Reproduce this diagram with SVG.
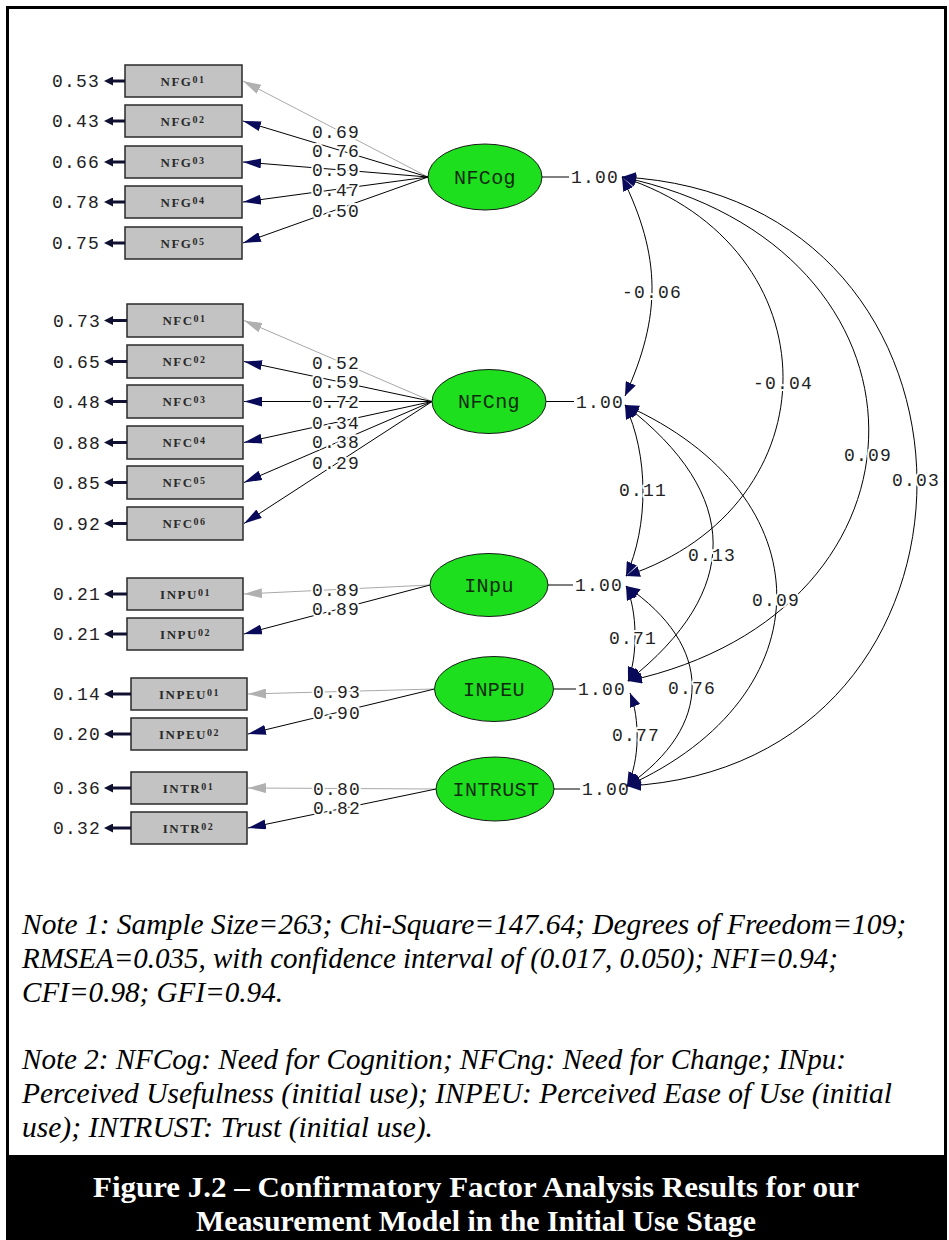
<svg xmlns="http://www.w3.org/2000/svg" width="949" height="1240" viewBox="0 0 949 1240">
  <style>
    .num { font-family: "Liberation Mono", "DejaVu Sans Mono", monospace; font-size: 18px; letter-spacing: 1.2px; fill: #222; }
    .mid { text-anchor: middle; }
    .halo { paint-order: stroke; stroke: #ffffff; stroke-width: 4px; stroke-linejoin: round; }
    .box rect { fill: #c3c3c3; stroke: #2a2a2a; stroke-width: 1.5; }
    .box text { font-family: "Liberation Serif", "Times New Roman", serif; font-weight: bold; font-size: 13px; letter-spacing: 1.5px; fill: #2a2a2a; text-anchor: middle; }
    .box tspan { font-size: 10px; }
    .lat ellipse { fill: #1ddf1d; stroke: #1a1a1a; stroke-width: 1; }
    .lat .name { font-family: "Liberation Mono", "DejaVu Sans Mono", monospace; font-size: 20px; letter-spacing: 0.4px; fill: #0f2a0f; text-anchor: middle; }
    .lat line { stroke: #000; stroke-width: 1; }
    .ld { stroke: #000; stroke-width: 1; fill: none; marker-end: url(#ahN); }
    .ld.g { stroke: #a8a8a8; marker-end: url(#ahG); }
    .err { stroke: #101030; stroke-width: 3; marker-end: url(#ahE); }
    .cov { fill: none; stroke: #000; stroke-width: 1; marker-start: url(#ahC); marker-end: url(#ahC); }
    .note { font-family: "Liberation Serif", "Times New Roman", serif; font-style: italic; font-size: 29px; fill: #000; }
    .cap { font-family: "Liberation Serif", "Times New Roman", serif; font-weight: bold; font-size: 30px; fill: #fff; text-anchor: middle; }
  </style>
  <defs>
    <marker id="ahC" viewBox="0 0 14 11" refX="14" refY="5.5" markerWidth="14" markerHeight="11" markerUnits="userSpaceOnUse" orient="auto-start-reverse">
      <path d="M0,0 L14,5.5 L0,11 z" fill="#0a0a5a"/>
    </marker>
    <marker id="ahN" viewBox="0 0 18 10" refX="18" refY="5" markerWidth="18" markerHeight="10" markerUnits="userSpaceOnUse" orient="auto">
      <path d="M0,0 L18,5 L0,10 z" fill="#0a0a5a"/>
    </marker>
    <marker id="ahG" viewBox="0 0 18 10" refX="18" refY="5" markerWidth="18" markerHeight="10" markerUnits="userSpaceOnUse" orient="auto">
      <path d="M0,0 L18,5 L0,10 z" fill="#b0b0b0"/>
    </marker>
    <marker id="ahE" viewBox="0 0 9 9" refX="0" refY="4.5" markerWidth="9" markerHeight="9" markerUnits="userSpaceOnUse" orient="auto">
      <path d="M0,0 L9,4.5 L0,9 z" fill="#101030"/>
    </marker>
  </defs>

  <!-- page frame -->
  <rect x="0" y="0" width="949" height="1240" fill="#fff"/>
  <rect x="7.5" y="7.5" width="938" height="1150" fill="none" stroke="#000" stroke-width="3"/>

  <!-- observed indicators -->
  <g id="NFG01" class="box"><rect x="125" y="65" width="117" height="32"/><text x="183" y="85.5">NFG<tspan dy="-3">01</tspan></text></g>
  <g id="NFG02" class="box"><rect x="125" y="105" width="117" height="32"/><text x="183" y="125.5">NFG<tspan dy="-3">02</tspan></text></g>
  <g id="NFG03" class="box"><rect x="125" y="146" width="117" height="32"/><text x="183" y="166.5">NFG<tspan dy="-3">03</tspan></text></g>
  <g id="NFG04" class="box"><rect x="125" y="186" width="117" height="32"/><text x="183" y="206.5">NFG<tspan dy="-3">04</tspan></text></g>
  <g id="NFG05" class="box"><rect x="125" y="227" width="117" height="32"/><text x="183" y="247.5">NFG<tspan dy="-3">05</tspan></text></g>

  <g id="NFC01" class="box"><rect x="127" y="304" width="116" height="33"/><text x="184.5" y="325">NFC<tspan dy="-3">01</tspan></text></g>
  <g id="NFC02" class="box"><rect x="127" y="345" width="116" height="33"/><text x="184.5" y="366">NFC<tspan dy="-3">02</tspan></text></g>
  <g id="NFC03" class="box"><rect x="127" y="385" width="116" height="33"/><text x="184.5" y="406">NFC<tspan dy="-3">03</tspan></text></g>
  <g id="NFC04" class="box"><rect x="127" y="426" width="116" height="33"/><text x="184.5" y="447">NFC<tspan dy="-3">04</tspan></text></g>
  <g id="NFC05" class="box"><rect x="127" y="466" width="116" height="33"/><text x="184.5" y="487">NFC<tspan dy="-3">05</tspan></text></g>
  <g id="NFC06" class="box"><rect x="127" y="507" width="116" height="33"/><text x="184.5" y="528">NFC<tspan dy="-3">06</tspan></text></g>

  <g id="INPU01" class="box"><rect x="127" y="578" width="116" height="32"/><text x="185.5" y="598.5">INPU<tspan dy="-3">01</tspan></text></g>
  <g id="INPU02" class="box"><rect x="127" y="618" width="116" height="32"/><text x="185.5" y="638.5">INPU<tspan dy="-3">02</tspan></text></g>

  <g id="INPEU01" class="box"><rect x="131" y="678" width="116" height="32"/><text x="189.5" y="698.5">INPEU<tspan dy="-3">01</tspan></text></g>
  <g id="INPEU02" class="box"><rect x="131" y="718" width="116" height="32"/><text x="189.5" y="738.5">INPEU<tspan dy="-3">02</tspan></text></g>

  <g id="INTR01" class="box"><rect x="131" y="772" width="116" height="32"/><text x="188.5" y="792.5">INTR<tspan dy="-3">01</tspan></text></g>
  <g id="INTR02" class="box"><rect x="131" y="812" width="116" height="32"/><text x="188.5" y="832.5">INTR<tspan dy="-3">02</tspan></text></g>

  <!-- latent factors, each with its variance stub -->
  <g id="NFCog" class="lat">
    <ellipse cx="485" cy="177" rx="57" ry="33"/>
    <text class="name" x="485" y="183.5">NFCog</text>
    <line x1="542" y1="177" x2="569" y2="177"/>
    <text class="num" x="571" y="183">1.00</text>
  </g>
  <g id="NFCng" class="lat">
    <ellipse cx="489" cy="401.5" rx="57" ry="32"/>
    <text class="name" x="489" y="408">NFCng</text>
    <line x1="546" y1="401.5" x2="574" y2="401.5"/>
    <text class="num" x="576" y="407.5">1.00</text>
  </g>
  <g id="INpu" class="lat">
    <ellipse cx="489" cy="585" rx="59" ry="31.5"/>
    <text class="name" x="489" y="591.5">INpu</text>
    <line x1="548" y1="585" x2="573" y2="585"/>
    <text class="num" x="575" y="591">1.00</text>
  </g>
  <g id="INPEU" class="lat">
    <ellipse cx="494" cy="689" rx="59.5" ry="32.5"/>
    <text class="name" x="494" y="695.5">INPEU</text>
    <line x1="553.5" y1="689" x2="576" y2="689"/>
    <text class="num" x="578" y="695">1.00</text>
  </g>
  <g id="INTRUST" class="lat">
    <ellipse cx="495" cy="789" rx="59" ry="32"/>
    <text class="name" x="496" y="795.5">INTRUST</text>
    <line x1="554" y1="789" x2="580" y2="789"/>
    <text class="num" x="582" y="795">1.00</text>
  </g>

  <g id="connectors">
    <!-- error variances -->
    <g id="errors">
      <line class="err" x1="125" y1="81" x2="113" y2="81"/>
      <line class="err" x1="125" y1="121" x2="113" y2="121"/>
      <line class="err" x1="125" y1="162" x2="113" y2="162"/>
      <line class="err" x1="125" y1="202" x2="113" y2="202"/>
      <line class="err" x1="125" y1="243" x2="113" y2="243"/>
      <line class="err" x1="127" y1="320.5" x2="113" y2="320.5"/>
      <line class="err" x1="127" y1="361.5" x2="113" y2="361.5"/>
      <line class="err" x1="127" y1="401.5" x2="113" y2="401.5"/>
      <line class="err" x1="127" y1="442.5" x2="113" y2="442.5"/>
      <line class="err" x1="127" y1="482.5" x2="113" y2="482.5"/>
      <line class="err" x1="127" y1="523.5" x2="113" y2="523.5"/>
      <line class="err" x1="127" y1="594" x2="113" y2="594"/>
      <line class="err" x1="127" y1="634" x2="113" y2="634"/>
      <line class="err" x1="131" y1="694" x2="113" y2="694"/>
      <line class="err" x1="131" y1="734" x2="113" y2="734"/>
      <line class="err" x1="131" y1="788" x2="113" y2="788"/>
      <line class="err" x1="131" y1="828" x2="113" y2="828"/>
      <g class="num">
        <text x="52" y="87">0.53</text>
        <text x="52" y="127">0.43</text>
        <text x="52" y="168">0.66</text>
        <text x="52" y="208">0.78</text>
        <text x="52" y="249">0.75</text>
        <text x="53" y="326.5">0.73</text>
        <text x="53" y="367.5">0.65</text>
        <text x="53" y="407.5">0.48</text>
        <text x="53" y="448.5">0.88</text>
        <text x="53" y="488.5">0.85</text>
        <text x="53" y="529.5">0.92</text>
        <text x="53" y="600">0.21</text>
        <text x="53" y="640">0.21</text>
        <text x="53" y="700">0.14</text>
        <text x="53" y="740">0.20</text>
        <text x="53" y="794">0.36</text>
        <text x="53" y="834">0.32</text>
      </g>
    </g>

    <!-- factor loadings -->
    <g id="loadings">
      <line class="ld g" x1="428" y1="177" x2="243" y2="81"/>
      <line class="ld" x1="428" y1="177" x2="243" y2="121"/>
      <line class="ld" x1="428" y1="177" x2="243" y2="162"/>
      <line class="ld" x1="428" y1="177" x2="243" y2="202"/>
      <line class="ld" x1="428" y1="177" x2="243" y2="243"/>

      <line class="ld g" x1="432" y1="401.5" x2="244" y2="320.5"/>
      <line class="ld" x1="432" y1="401.5" x2="244" y2="361.5"/>
      <line class="ld" x1="432" y1="401.5" x2="244" y2="401.5"/>
      <line class="ld" x1="432" y1="401.5" x2="244" y2="442.5"/>
      <line class="ld" x1="432" y1="401.5" x2="244" y2="482.5"/>
      <line class="ld" x1="432" y1="401.5" x2="244" y2="523.5"/>

      <line class="ld g" x1="430" y1="585" x2="244" y2="594"/>
      <line class="ld" x1="430" y1="585" x2="244" y2="634"/>

      <line class="ld g" x1="434.5" y1="689" x2="248" y2="694"/>
      <line class="ld" x1="434.5" y1="689" x2="248" y2="734"/>

      <line class="ld g" x1="436" y1="789" x2="248" y2="788"/>
      <line class="ld" x1="436" y1="789" x2="248" y2="828"/>

      <g class="num mid halo">
        <text x="336" y="138">0.69</text>
        <text x="336" y="157">0.76</text>
        <text x="336" y="176">0.59</text>
        <text x="336" y="196">0.47</text>
        <text x="336" y="217">0.50</text>
        <text x="336" y="369">0.52</text>
        <text x="336" y="388">0.59</text>
        <text x="336" y="408">0.72</text>
        <text x="336" y="429">0.34</text>
        <text x="336" y="448">0.38</text>
        <text x="336" y="469">0.29</text>
        <text x="336" y="596">0.89</text>
        <text x="336" y="615">0.89</text>
        <text x="337" y="698">0.93</text>
        <text x="337" y="719">0.90</text>
        <text x="337" y="795">0.80</text>
        <text x="337" y="814">0.82</text>
      </g>
    </g>

    <!-- factor correlations -->
    <g id="correlations">
      <path class="cov" d="M622,177 C661.5,257 661.5,316 625,396"/>
      <path class="cov" d="M622,177 C836,247 836,506 626,576"/>
      <path class="cov" d="M622,177 C950,247 950,611 628,681"/>
      <path class="cov" d="M622,177 C1014.5,197 1014.5,766 627,786"/>
      <path class="cov" d="M625,405 C648.8,455 648.8,526 626,576"/>
      <path class="cov" d="M625,405 C742,495 742,591 628,681"/>
      <path class="cov" d="M625,405 C827,495 827,696 627,786"/>
      <path class="cov" d="M626,586 C637.7,611 637.7,656 628,681"/>
      <path class="cov" d="M626,586 C714,646 714,726 627,786"/>
      <path class="cov" d="M630,693 C640,718 640,761 627,786"/>
      <g class="num mid halo">
        <text x="652" y="298">-0.06</text>
        <text x="783" y="389">-0.04</text>
        <text x="868" y="461">0.09</text>
        <text x="916" y="486">0.03</text>
        <text x="643" y="496">0.11</text>
        <text x="712" y="561">0.13</text>
        <text x="776" y="606">0.09</text>
        <text x="633" y="644">0.71</text>
        <text x="692" y="694">0.76</text>
        <text x="636" y="741">0.77</text>
      </g>
    </g>
  </g>

  <!-- fit statistics and legend -->
  <g id="notes" class="note">
    <text x="22" y="934" textLength="884" lengthAdjust="spacingAndGlyphs">Note 1: Sample Size=263; Chi-Square=147.64; Degrees of Freedom=109;</text>
    <text x="22" y="968" textLength="816" lengthAdjust="spacingAndGlyphs">RMSEA=0.035, with confidence interval of (0.017, 0.050); NFI=0.94;</text>
    <text x="22" y="1002" textLength="261" lengthAdjust="spacingAndGlyphs">CFI=0.98; GFI=0.94.</text>
    <text x="22" y="1069" textLength="824" lengthAdjust="spacingAndGlyphs">Note 2: NFCog: Need for Cognition; NFCng: Need for Change; INpu:</text>
    <text x="22" y="1103" textLength="870" lengthAdjust="spacingAndGlyphs">Perceived Usefulness (initial use); INPEU: Perceived Ease of Use (initial</text>
    <text x="22" y="1137" textLength="411" lengthAdjust="spacingAndGlyphs">use); INTRUST: Trust (initial use).</text>
  </g>

  <!-- caption band -->
  <g id="caption">
    <rect x="6" y="1155" width="941" height="85" fill="#000"/>
    <text class="cap" x="476" y="1197" textLength="766" lengthAdjust="spacingAndGlyphs">Figure J.2 – Confirmatory Factor Analysis Results for our</text>
    <text class="cap" x="476" y="1231" textLength="560" lengthAdjust="spacingAndGlyphs">Measurement Model in the Initial Use Stage</text>
  </g>
</svg>
